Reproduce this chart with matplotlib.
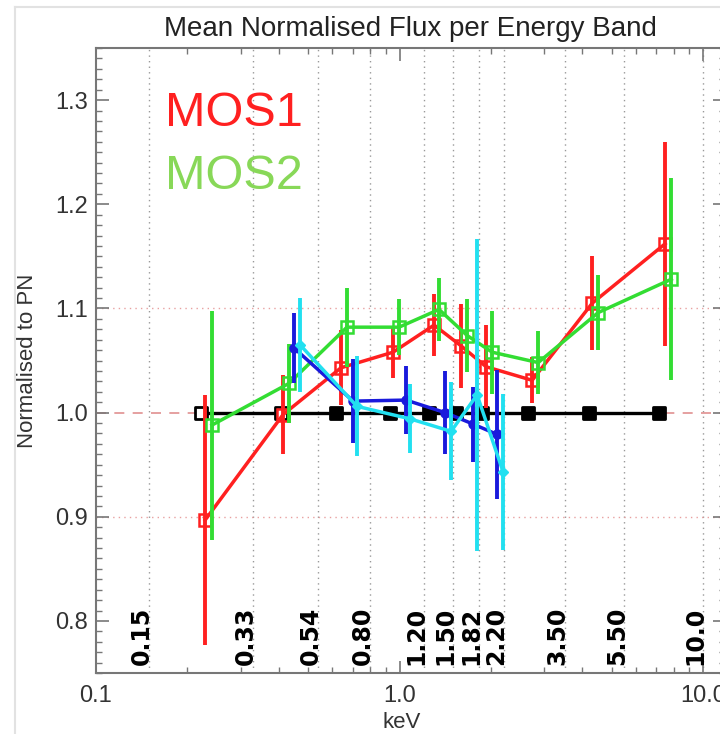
import matplotlib
matplotlib.use("Agg")
import matplotlib.pyplot as plt
from matplotlib.lines import Line2D
from matplotlib.ticker import LogLocator, MultipleLocator, FixedLocator, NullFormatter

# energy band boundaries (keV)
band_edges = [0.15, 0.33, 0.54, 0.80, 1.20, 1.50, 1.82, 2.20, 3.50, 5.50, 10.0]
band_labels = ["0.15", "0.33", "0.54", "0.80", "1.20", "1.50", "1.82", "2.20", "3.50", "5.50", "10.0"]

# PN reference (always 1)
pn_e = [0.222, 0.407, 0.618, 0.930, 1.25, 1.535, 1.87, 2.64, 4.21, 7.16]
pn_flux = [1.0, 1.0, 1.0, 1.0, 1.0, 1.0, 1.0, 1.0, 1.0, 1.0]

# MOS1
mos1_e = [0.229, 0.413, 0.641, 0.952, 1.299, 1.595, 1.928, 2.733, 4.31, 7.49]
mos1_flux = [0.897, 0.998, 1.043, 1.058, 1.084, 1.064, 1.044, 1.031, 1.105, 1.162]
mos1_err = [0.120, 0.038, 0.036, 0.025, 0.030, 0.040, 0.040, 0.022, 0.045, 0.098]

# MOS2
mos2_e = [0.241, 0.432, 0.671, 0.996, 1.349, 1.669, 2.017, 2.860, 4.51, 7.85]
mos2_flux = [0.988, 1.028, 1.082, 1.082, 1.099, 1.074, 1.058, 1.048, 1.096, 1.128]
mos2_err = [0.110, 0.038, 0.038, 0.027, 0.030, 0.035, 0.040, 0.030, 0.036, 0.097]

# blue series
blue_e = [0.449, 0.703, 1.050, 1.412, 1.746, 2.096]
blue_flux = [1.062, 1.011, 1.012, 1.000, 0.989, 0.979]
blue_err = [0.034, 0.040, 0.033, 0.040, 0.036, 0.062]

# cyan series
cyan_e = [0.470, 0.724, 1.083, 1.478, 1.800, 2.193]
cyan_flux = [1.065, 1.006, 0.994, 0.982, 1.017, 0.943]
cyan_err = [0.045, 0.048, 0.033, 0.047, 0.150, 0.075]

RED = "#ff2020"
GREEN = "#33dd33"
BLUE = "#1a1adc"
CYAN = "#22e0f0"

plt.rcParams["font.family"] = ["Liberation Sans", "DejaVu Sans"]

fig = plt.figure(figsize=(7.2, 7.34), dpi=100)
ax = fig.add_axes([96 / 720, 61 / 734, 629 / 720, 625 / 734])

# light border of the screenshot
fig.add_artist(Line2D([15 / 720, 15 / 720], [0, 1 - 7 / 734], color="#e2e2e2", lw=1.5,
                      transform=fig.transFigure))
fig.add_artist(Line2D([15 / 720, 1], [1 - 7 / 734, 1 - 7 / 734], color="#e2e2e2", lw=1.5,
                      transform=fig.transFigure))

ax.set_xscale("log")
ax.set_xlim(0.1, 11.8)
ax.set_ylim(0.75, 1.35)

# grids
for e in band_edges:
    ax.axvline(e, color="#999999", lw=1, ls=(0, (1, 3)), zorder=0)
for yv in [0.9, 1.1]:
    ax.axhline(yv, color="#e8a0a0", lw=1, ls=(0, (1, 3)), zorder=0)
ax.axhline(1.0, color="#e09090", lw=1.2, ls=(0, (6, 5)), zorder=0)

for e, lab in zip(band_edges, band_labels):
    ax.annotate(lab, xy=(e, 0.758), xytext=(-5.5, 0), textcoords="offset points",
                rotation=90, ha="center", va="bottom", fontsize=17,
                fontweight="bold", family="DejaVu Sans", color="black")

# PN
ax.plot(pn_e, pn_flux, color="black", lw=2.4, zorder=2)
pn_face = ["white", "white"] + ["black"] * (len(pn_e) - 2)
ax.scatter(pn_e, pn_flux, marker="s", s=75, facecolors=pn_face, edgecolors="black",
           linewidths=2, zorder=3)

ax.errorbar(mos1_e, mos1_flux, yerr=mos1_err, color=RED, lw=2.5, elinewidth=2.8,
            capsize=0, marker="s", ms=9, mfc="none", mec=RED, mew=1.8, zorder=4)
ax.errorbar(mos2_e, mos2_flux, yerr=mos2_err, color=GREEN, lw=2.5, elinewidth=2.8,
            capsize=0, marker="s", ms=9, mfc="none", mec=GREEN, mew=1.8, zorder=5)
ax.errorbar(blue_e, blue_flux, yerr=blue_err, color=BLUE, lw=2.5, elinewidth=2.8,
            capsize=0, marker="o", ms=6.5, zorder=6)
ax.errorbar(cyan_e, cyan_flux, yerr=cyan_err, color=CYAN, lw=2.5, elinewidth=2.8,
            capsize=0, marker="D", ms=5.5, zorder=7)

ax.text(0.110, 0.895, "MOS1", transform=ax.transAxes, color=RED, fontsize=35,
        va="center", ha="left")
ax.text(0.110, 0.795, "MOS2", transform=ax.transAxes, color="#88d858", fontsize=35,
        va="center", ha="left")

# axes styling
for sp in ax.spines.values():
    sp.set_color("#777777")
    sp.set_linewidth(1.5)
ax.xaxis.set_major_locator(FixedLocator([0.1, 1.0, 10.0]))
ax.xaxis.set_minor_locator(LogLocator(base=10, subs=range(2, 10)))
ax.xaxis.set_minor_formatter(NullFormatter())
ax.set_xticklabels(["0.1", "1.0", "10.0"])
ax.yaxis.set_major_locator(MultipleLocator(0.1))
ax.yaxis.set_minor_locator(MultipleLocator(0.01))
ax.tick_params(which="both", direction="in", top=True, right=True, color="#777777",
               labelcolor="#333333", labelsize=17)
ax.tick_params(which="major", length=9, width=1.2)
ax.tick_params(which="minor", length=4, width=1)
ax.tick_params(axis="x", pad=9)
ax.tick_params(axis="y", pad=6)

ax.set_title("Mean Normalised Flux per Energy Band", fontsize=20, color="#222222", pad=9)
ax.set_xlabel("keV", fontsize=16, color="#333333")
ax.set_ylabel("Normalised to PN", fontsize=16, color="#333333", labelpad=12)
ax.xaxis.set_label_coords((402 - 96) / 629, -0.062)

fig.savefig("out.png", dpi=100)
